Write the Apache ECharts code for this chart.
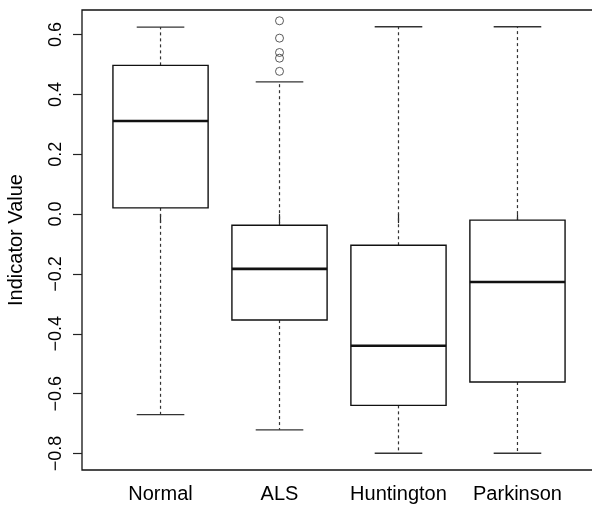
<!DOCTYPE html>
<html>
<head>
<meta charset="utf-8">
<script src="https://cdn.jsdelivr.net/npm/echarts@6/dist/echarts.min.js"></script>
<style>html,body{margin:0;padding:0;background:#fff}#c{width:592px;height:505px}</style>
</head>
<body>
<div id="c"></div>
<script>
var categories = ['Normal', 'ALS', 'Huntington', 'Parkinson'];
var lowerWhisker = [-0.670, -0.721, -0.799, -0.799];
var q1 = [0.021, -0.354, -0.639, -0.561];
var median = [0.311, -0.183, -0.440, -0.227];
var q3 = [0.497, -0.037, -0.104, -0.020];
var upperWhisker = [0.625, 0.442, 0.626, 0.626];
var outlierCategory = [2, 2, 2, 2, 2];
var outlierValues = [0.646, 0.588, 0.540, 0.521, 0.477];
var yTicks = [-0.8, -0.6, -0.4, -0.2, 0.0, 0.2, 0.4, 0.6];
var xTicks = [1, 2, 3, 4];

var FONT = '"Liberation Sans", Arial, Helvetica, sans-serif';

var boxData = categories.map(function (c, i) {
  return [i + 1, lowerWhisker[i], q1[i], median[i], q3[i], upperWhisker[i]];
});
var outlierData = outlierValues.map(function (v, i) { return [outlierCategory[i], v]; });

function renderBox(params, api) {
  var x = api.value(0);
  var lo = api.value(1), b1 = api.value(2), md = api.value(3), b3 = api.value(4), hi = api.value(5);
  var w = api.size([0.8, 0])[0];
  var hw = w / 2;
  var cap = w / 4;
  var pLo = api.coord([x, lo]), p1 = api.coord([x, b1]), pm = api.coord([x, md]);
  var p3 = api.coord([x, b3]), pHi = api.coord([x, hi]);
  var cx = pm[0];
  var dash = { stroke: '#333', lineWidth: 1.2, lineDash: [3, 3] };
  var capStyle = { stroke: '#333', lineWidth: 1.3 };
  return {
    type: 'group',
    children: [
      { type: 'line', shape: { x1: cx, y1: p3[1], x2: cx, y2: pHi[1] }, style: dash },
      { type: 'line', shape: { x1: cx, y1: p1[1], x2: cx, y2: pLo[1] }, style: dash },
      { type: 'line', shape: { x1: cx - cap, y1: pHi[1], x2: cx + cap, y2: pHi[1] }, style: capStyle },
      { type: 'line', shape: { x1: cx - cap, y1: pLo[1], x2: cx + cap, y2: pLo[1] }, style: capStyle },
      { type: 'rect', shape: { x: cx - hw, y: p3[1], width: w, height: p1[1] - p3[1] },
        style: { fill: '#fff', stroke: '#111', lineWidth: 1.4 } },
      { type: 'line', shape: { x1: cx - hw, y1: pm[1], x2: cx + hw, y2: pm[1] },
        style: { stroke: '#111', lineWidth: 2.6 } }
    ]
  };
}

var chart = echarts.init(document.getElementById('c'), null, { renderer: 'canvas' });
chart.setOption({
  animation: false,
  backgroundColor: '#fff',
  grid: {
    left: 82, top: 10, right: -4, bottom: 35,
    outerBoundsMode: 'none', containLabel: false,
    show: true, borderColor: '#111', borderWidth: 1.3, backgroundColor: 'transparent'
  },
  xAxis: {
    type: 'value', min: 0.34, max: 4.66,
    splitLine: { show: false },
    axisLine: { show: false },
    axisTick: { show: true, inside: false, length: 9, customValues: xTicks, lineStyle: { color: '#222', width: 1.2 } },
    axisLabel: {
      customValues: xTicks, margin: 14, fontSize: 20, color: '#000', fontFamily: FONT,
      formatter: function (v) { return categories[Math.round(v) - 1]; }
    }
  },
  yAxis: {
    type: 'value', min: -0.855, max: 0.682,
    name: 'Indicator Value', nameLocation: 'middle', nameGap: 56,
    nameTextStyle: { fontSize: 20, color: '#000', fontFamily: FONT },
    splitLine: { show: false },
    axisLine: { show: false },
    axisTick: { show: true, inside: false, length: 9, customValues: yTicks, lineStyle: { color: '#222', width: 1.2 } },
    axisLabel: {
      customValues: yTicks, rotate: 90, margin: 17, fontSize: 18, color: '#000', fontFamily: FONT,
      formatter: function (v) { return (v < 0 ? '\u2212' : '') + Math.abs(v).toFixed(1); }
    }
  },
  series: [
    {
      type: 'custom',
      renderItem: renderBox,
      data: boxData,
      encode: { x: 0, y: [1, 2, 3, 4, 5] },
      clip: false
    },
    {
      type: 'scatter',
      data: outlierData,
      symbol: 'circle',
      symbolSize: 8,
      itemStyle: { color: 'transparent', borderColor: '#333', borderWidth: 1 }
    }
  ]
});
</script>
</body>
</html>
